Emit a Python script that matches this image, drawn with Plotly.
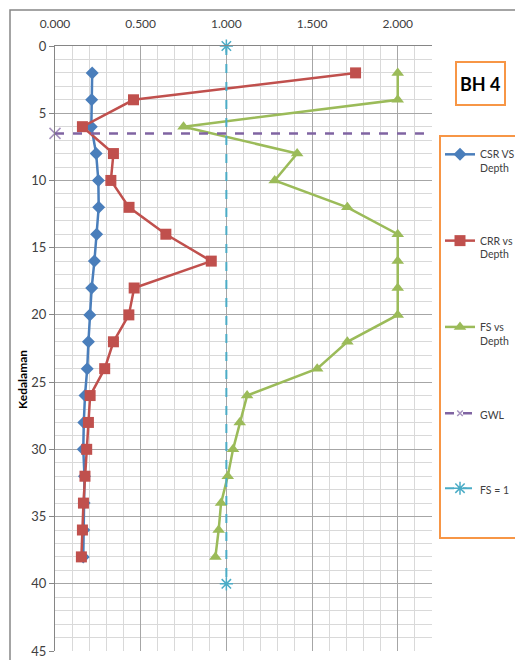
import plotly.graph_objects as go

# ---- data ----
depth = [2, 4, 6, 8, 10, 12, 14, 16, 18, 20, 22, 24, 26, 28, 30, 32, 34, 36, 38]
csr = [0.217, 0.214, 0.212, 0.240, 0.253, 0.255, 0.243, 0.230, 0.214, 0.203,
       0.195, 0.188, 0.175, 0.168, 0.165, 0.172, 0.170, 0.168, 0.165]
crr = [1.754, 0.458, 0.160, 0.341, 0.326, 0.432, 0.647, 0.912, 0.462, 0.431,
       0.341, 0.290, 0.205, 0.195, 0.185, 0.175, 0.166, 0.160, 0.154]
fs = [2.000, 2.000, 0.750, 1.413, 1.282, 1.706, 2.000, 2.000, 2.000, 2.000,
      1.706, 1.530, 1.121, 1.078, 1.039, 1.008, 0.969, 0.955, 0.936]
gwl_x = [0.0, 2.2]
gwl_depth = [6.5, 6.5]
fs1_x = [1.0, 1.0]
fs1_depth = [0, 40]

x_ticks = [0.0, 0.5, 1.0, 1.5, 2.0]
y_ticks = [0, 5, 10, 15, 20, 25, 30, 35, 40, 45]

FONT = "Lato, 'Open Sans', 'Liberation Sans', sans-serif"
BLUE = "#4A7EBB"
RED = "#C0504D"
GREEN = "#9BBB59"
PURPLE = "#8064A2"
CYAN = "#4BACC6"
ORANGE = "#F79646"

fig = go.Figure()
fig.add_trace(go.Scatter(x=csr, y=depth, mode="lines+markers", name="CSR VS<br>Depth",
                         legendgroup="a",
                         line=dict(color=BLUE, width=2.5),
                         marker=dict(symbol="diamond", size=10, color=BLUE)))
fig.add_trace(go.Scatter(x=crr, y=depth, mode="lines+markers", name="CRR vs<br>Depth",
                         legendgroup="b",
                         line=dict(color=RED, width=2.5),
                         marker=dict(symbol="square", size=11, color=RED)))
fig.add_trace(go.Scatter(x=fs, y=depth, mode="lines+markers", name="FS vs<br>Depth",
                         legendgroup="c",
                         line=dict(color=GREEN, width=2.5),
                         marker=dict(symbol="triangle-up", size=11, color=GREEN)))
fig.add_trace(go.Scatter(x=gwl_x, y=gwl_depth, mode="lines+markers", name="GWL",
                         legendgroup="d", cliponaxis=False,
                         line=dict(color=PURPLE, width=2.5, dash="dash"),
                         marker=dict(symbol="x-thin-open", size=[11, 0],
                                     line=dict(color=PURPLE, width=1.5), color=PURPLE)))
fig.add_trace(go.Scatter(x=fs1_x, y=fs1_depth, mode="lines+markers", name="FS = 1",
                         legendgroup="e", cliponaxis=False,
                         line=dict(color=CYAN, width=2, dash="dash"),
                         marker=dict(symbol="asterisk-open", size=11,
                                     line=dict(color=CYAN, width=1.5), color=CYAN)))

OFF = 8  # default page body margin
W, H = 523 - OFF, 660 - OFF
# plot area in page pixels: x 55..432, y 46..651
L = 55 - OFF
T = 46 - OFF
R = W - (432 - OFF)
B = H - (651 - OFF)
pw, ph = W - L - R, H - T - B


def px(xp):
    return (xp - OFF - L) / pw


def py(yp):
    return (H - B - (yp - OFF)) / ph


fig.update_layout(
    width=W, height=H,
    margin=dict(l=L, r=R, t=T, b=B, autoexpand=False),
    paper_bgcolor="white", plot_bgcolor="white",
    font=dict(family=FONT, size=11, color="#404040"),
    showlegend=True,
    legend=dict(xref="container", yref="container",
                x=(440 - OFF) / W, y=1 - (141 - OFF) / H, xanchor="left", yanchor="top",
                bgcolor="rgba(0,0,0,0)", borderwidth=0, maxheight=520,
                tracegroupgap=56, itemwidth=30, valign="top",
                font=dict(family=FONT, size=10.5, color="#404040")),
    xaxis=dict(side="top", range=[0, 2.2], tickvals=x_ticks, tickformat=".3f",
               showgrid=True, gridcolor="#A6A6A6", gridwidth=1,
               minor=dict(dtick=0.1, showgrid=True, gridcolor="#D9D9D9", gridwidth=1),
               showline=True, linecolor="#868686", linewidth=1,
               ticks="outside", ticklen=0, ticklabelstandoff=12, zeroline=False,
               automargin=False,
               tickfont=dict(size=12, color="#404040")),
    yaxis=dict(range=[45, 0], tickvals=y_ticks,
               showgrid=True, gridcolor="#A6A6A6", gridwidth=1,
               minor=dict(dtick=1, showgrid=True, gridcolor="#D9D9D9", gridwidth=1),
               showline=True, linecolor="#868686", linewidth=1,
               ticks="outside", ticklen=5, tickcolor="#868686", zeroline=False,
               automargin=False, ticklabeloverflow="allow",
               tickfont=dict(size=13, color="#404040")),
    shapes=[
        dict(type="rect", xref="paper", yref="paper",
             x0=px(10), x1=px(540), y0=py(680), y1=py(10),
             line=dict(color="#868686", width=1.5), layer="below"),
        dict(type="rect", xref="paper", yref="paper",
             x0=px(456), x1=px(505), y0=py(105), y1=py(62),
             line=dict(color=ORANGE, width=2)),
        dict(type="rect", xref="paper", yref="paper",
             x0=px(440), x1=px(540), y0=py(538), y1=py(136),
             line=dict(color=ORANGE, width=2)),
    ],
    annotations=[
        dict(text="<b>BH 4</b>", xref="paper", yref="paper",
             x=px(480.5), y=py(84), xanchor="center", yanchor="middle",
             showarrow=False, font=dict(family=FONT, size=18, color="black")),
        dict(text="<b>Kedalaman</b>", xref="paper", yref="paper",
             x=px(22), y=py(380), xanchor="center", yanchor="middle",
             textangle=-90, showarrow=False,
             font=dict(family=FONT, size=12, color="black")),
    ],
)

fig.write_html("out.html")
